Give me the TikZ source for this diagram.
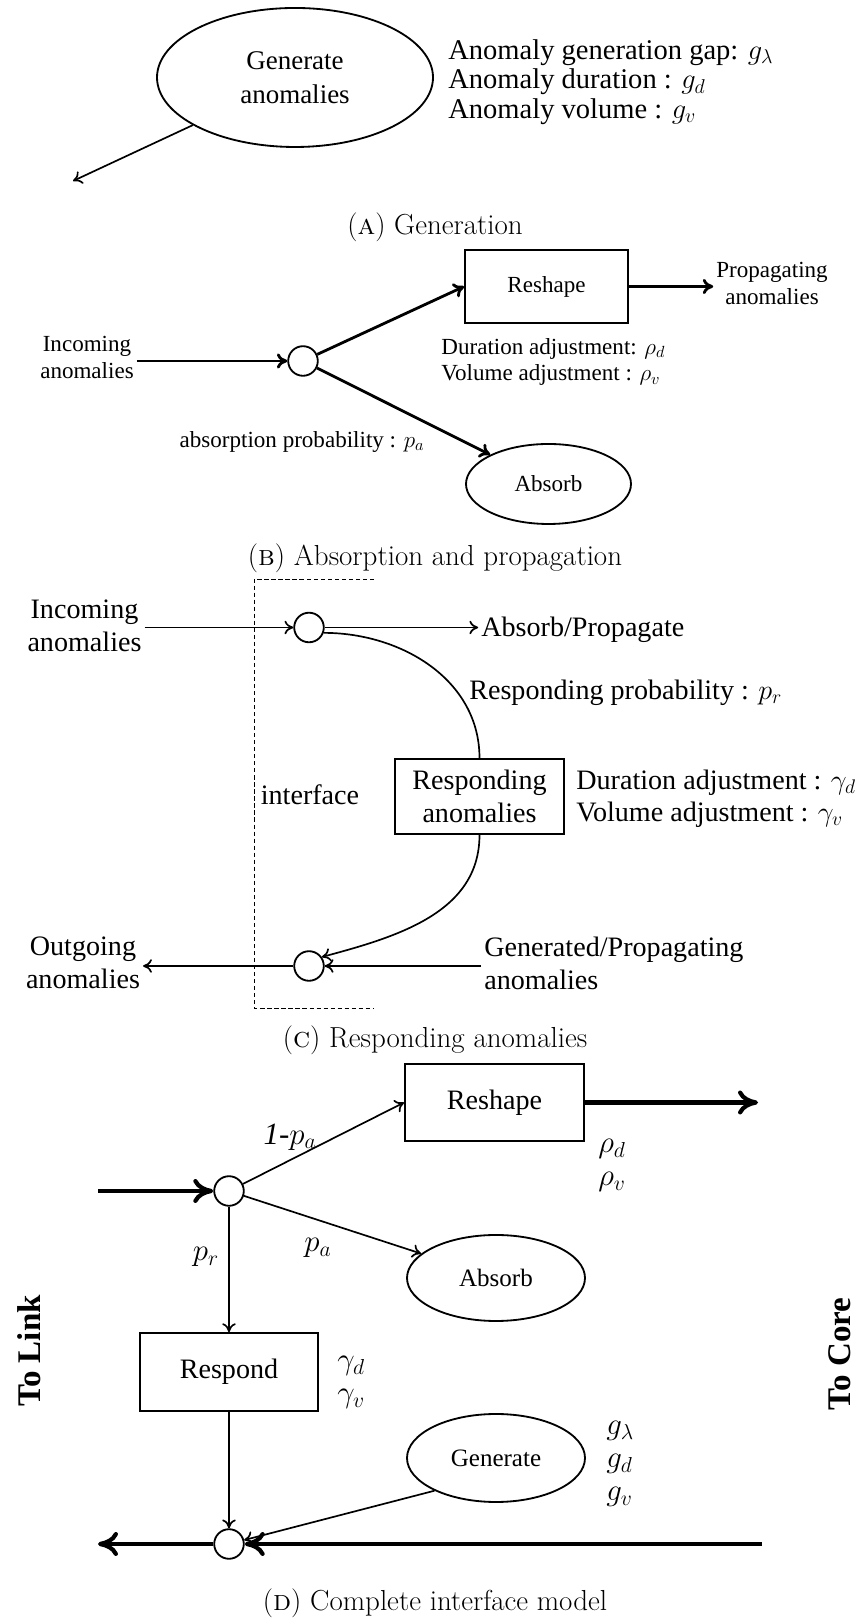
\RequirePackage{fix-cm}
\documentclass[tikz,border=0pt]{standalone}
\usepackage{fontspec}
\newfontfamily\tnr{Liberation Serif}
\usetikzlibrary{arrows.meta,shapes.geometric}
\tikzset{
  blk/.style={rectangle,draw,line width=1.3pt,inner sep=0pt,align=center},
  oval/.style={ellipse,draw,line width=1.3pt,inner sep=0pt,align=center},
  junc/.style={circle,draw,line width=1.3pt,minimum size=0.74cm,inner sep=0pt},
  lbl/.style={inner sep=2pt,align=left},
  txa/.style={font=\tnr\fontsize{20.3}{21}\selectfont},
  txg/.style={font=\tnr\fontsize{19.2}{24.2}\selectfont},
  txb/.style={font=\tnr\fontsize{16.4}{19}\selectfont},
  txc/.style={font=\tnr\fontsize{20}{23}\selectfont},
  txd/.style={font=\tnr\fontsize{20}{23}\selectfont},
  txe/.style={font=\tnr\fontsize{17.8}{20}\selectfont},
  mth/.style={font=\tnr\fontsize{22}{23.5}\selectfont},
  side/.style={rotate=90,font=\tnr\bfseries\fontsize{23.5}{26}\selectfont},
  captxt/.style={font=\fontsize{20.6}{24}\selectfont},
  arr/.style={-{To[length=2.2mm,width=3.4mm]},line width=1.2pt},
  marr/.style={-{To[length=2.6mm,width=3.8mm]},line width=2pt},
  barr/.style={-{To[length=5mm,width=6mm]},line width=3pt},
}
\begin{document}
\begin{tikzpicture}
  \useasboundingbox (0,0) rectangle (21.375,40.525);

  \node[oval,txg,minimum width=6.9cm,minimum height=3.475cm]
    (gnA) at (7.375,38.5875) {Generate\\anomalies};
  \coordinate (endA) at (1.825,36.0);
  \node[lbl,txa,anchor=west] (parA) at (11.13,38.475)
    {Anomaly generation gap: $g_\lambda$\\Anomaly duration : $g_d$\\Anomaly volume : $g_v$};
  \draw[arr] (gnA) -- (endA);
  \node[captxt] (capA) at (10.875,34.85) {(\textsc{a}) Generation};

  \node[junc] (cB) at (7.575,31.5) {};
  \node[lbl,txb,align=center] (inB) at (2.175,31.5875) {Incoming\\anomalies};
  \node[blk,txb,minimum width=4.075cm,minimum height=1.825cm]
    (rsB) at (13.6625,33.3625) {Reshape};
  \node[lbl,txb,align=center] (prB) at (19.3,33.4375) {Propagating\\anomalies};
  \node[lbl,txb,anchor=west] (adjB) at (10.96,31.475)
    {Duration adjustment: $\rho_d$\\Volume adjustment : $\rho_v$};
  \node[oval,txb,minimum width=4.125cm,minimum height=2cm]
    (abB) at (13.7125,28.425) {Absorb};
  \node[lbl,txb] (apB) at (7.55,29.475) {absorption probability : $p_a$};
  \draw[marr] (inB.east |- cB.west) -- (cB.west);
  \draw[marr] (cB) -- (rsB.west);
  \draw[marr] (cB) -- (abB);
  \draw[marr] (rsB.east) -- (prB.west |- rsB.east);
  \node[captxt] (capB) at (10.875,26.575) {(\textsc{b}) Absorption and propagation};

  \draw[dashed,dash pattern=on 3pt off 2pt,line width=0.6pt]
    (9.35,26.05) -- (6.35,26.05) -- (6.35,15.325) -- (9.35,15.325);
  \node[junc] (tC) at (7.725,24.8375) {};
  \node[lbl,txc,align=center] (inC) at (2.1125,24.875) {Incoming\\anomalies};
  \node[lbl,txc,anchor=west] (apC) at (11.955,24.775) {Absorb/Propagate};
  \node[blk,txc,minimum width=4.225cm,minimum height=1.875cm]
    (rsC) at (11.9875,20.6125) {Responding\\anomalies};
  \node[lbl,txc,anchor=west] (rpC) at (11.655,23.2) {Responding probability : $p_r$};
  \node[lbl,txc] (ifC) at (7.75,20.65) {interface};
  \node[lbl,txc,anchor=west] (adjC) at (14.33,20.5625)
    {Duration adjustment : $\gamma_d$\\Volume adjustment : $\gamma_v$};
  \node[junc] (bC) at (7.725,16.375) {};
  \node[lbl,txc,align=center] (outC) at (2.075,16.45) {Outgoing\\anomalies};
  \node[lbl,txc,anchor=west] (gpC) at (12.03,16.4375) {Generated/Propagating\\anomalies};
  \draw[arr] (inC.east |- tC.west) -- (tC.west);
  \draw[arr] (tC.east) -- (apC.west |- tC.east);
  \draw[line width=1.2pt] (tC.-20) to[out=0,in=90] (rsC.north);
  \draw[arr] (rsC.south) to[out=-90,in=15] (bC.35);
  \draw[arr] (gpC.west |- bC.east) -- (bC.east);
  \draw[arr] (bC.west) -- (outC.east |- bC.west);
  \node[captxt] (capC) at (10.875,14.525) {(\textsc{c}) Responding anomalies};

  \node[junc] (cD) at (5.725,10.75) {};
  \coordinate (inD) at (2.45,10.75);
  \node[blk,txd,minimum width=4.475cm,minimum height=1.925cm]
    (rsD) at (12.3625,12.9625) {Reshape};
  \coordinate (outD) at (18.95,12.9625);
  \node[oval,txe,minimum width=4.45cm,minimum height=2.15cm]
    (abD) at (12.4,8.575) {Absorb};
  \node[blk,txd,minimum width=4.45cm,minimum height=1.95cm]
    (rpD) at (5.725,6.225) {Respond};
  \node[oval,txe,minimum width=4.45cm,minimum height=2.2cm]
    (gnD) at (12.4,4.075) {Generate};
  \node[junc] (bD) at (5.725,1.925) {};
  \coordinate (lkD) at (2.45,1.925);
  \coordinate (crD) at (19.05,1.925);
  \node[lbl,mth,anchor=west] (rhoD) at (14.88,11.3875) {$\rho_d$\\$\rho_v$};
  \node[lbl,mth,anchor=west] (gamD) at (8.355,5.9625) {$\gamma_d$\\$\gamma_v$};
  \node[lbl,mth,anchor=west] (genD) at (15.08,3.925) {$g_\lambda$\\$g_d$\\$g_v$};
  \node[lbl,mth] (p1D) at (7.25,12.1) {\textit{1-}$p_a$};
  \node[lbl,mth] (paD) at (7.95,9.325) {$p_a$};
  \node[lbl,mth] (prD) at (5.15,9.1) {$p_r$};
  \node[side] (lkT) at (0.725,6.75) {To Link};
  \node[side] (crT) at (21.0,6.675) {To Core};
  \draw[barr] (inD) -- (cD.west);
  \draw[arr] (cD) -- (rsD.west);
  \draw[arr] (cD) -- (abD);
  \draw[arr] (cD.south) -- (rpD.north);
  \draw[barr] (rsD.east) -- (outD);
  \draw[arr] (rpD.south) -- (bD.north);
  \draw[arr] (gnD.208) -- (bD);
  \draw[barr] (crD) -- (bD.east);
  \draw[barr] (bD.west) -- (lkD);
  \node[captxt] (capD) at (10.875,0.45) {(\textsc{d}) Complete interface model};
\end{tikzpicture}
\end{document}
